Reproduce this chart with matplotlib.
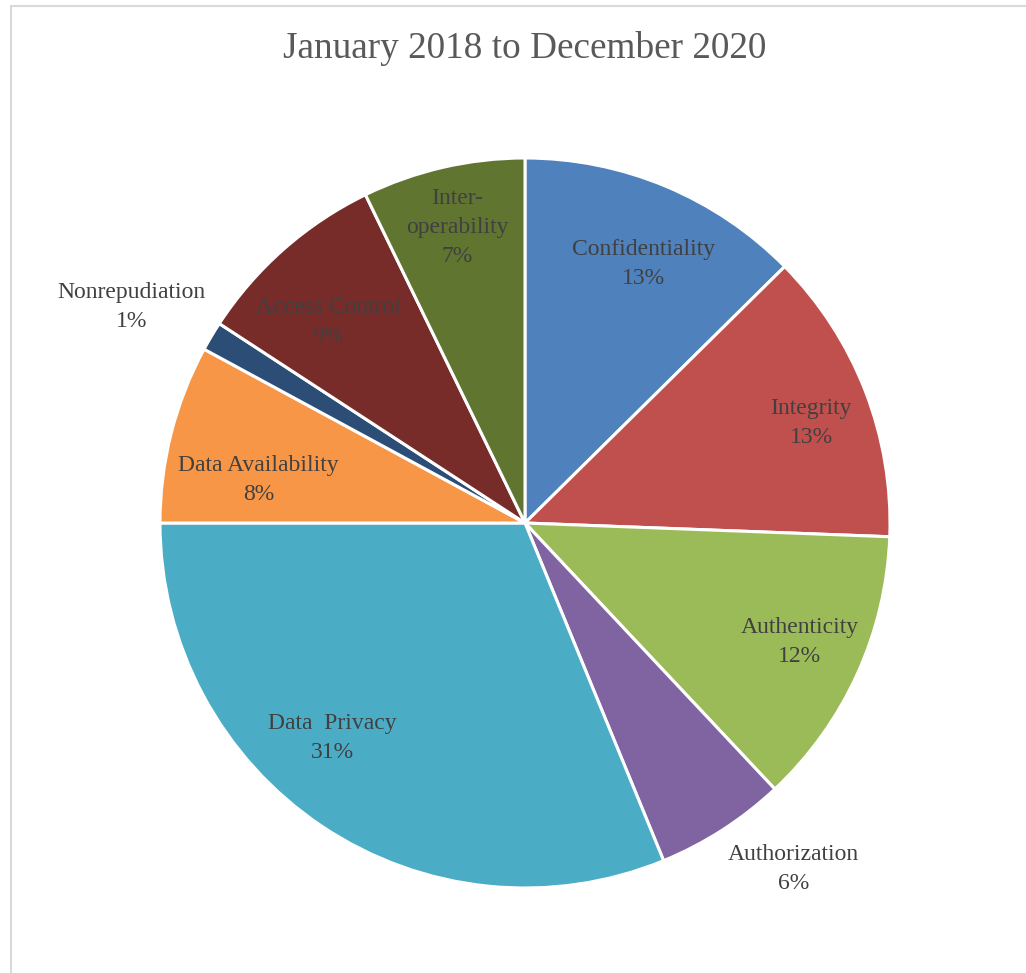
import numpy as np
import matplotlib.pyplot as plt
from matplotlib.patches import Rectangle

# share of publications per security requirement (%)
categories = ["Confidentiality", "Integrity", "Authenticity", "Authorization",
              "Data  Privacy", "Data Availability", "Nonrepudiation",
              "Access Control", "Inter-\noperability"]
shares = [12.6, 13.0, 12.4, 5.8, 31.2, 7.9, 1.3, 8.6, 7.2]
colors = ["#4F81BD", "#C0504D", "#9BBB59", "#8064A2", "#4BACC6",
          "#F79646", "#2C4D75", "#772C2A", "#5F7530"]

# label placement: distance from centre and angle nudge (degrees)
label_r = [0.78, 0.83, 0.82, 1.20, 0.79, 0.74, 1.23, 0.77, 0.83]
label_shift = [-2, -2, 1, 5, -8, 5, 2, 3, 0]

plt.rcParams["font.family"] = ["Liberation Serif", "DejaVu Serif"]

W, H = 1026, 973
fig = plt.figure(figsize=(W / 100, H / 100), dpi=100)

# light chart-area frame
fig.patches.append(Rectangle((10.5 / W, -0.1), 1.2, 1.1 - 6.5 / H,
                             transform=fig.transFigure, fill=False,
                             edgecolor="#D9D9D9", linewidth=1.5))

cx, cy, R = 525, 523, 365
ax = fig.add_axes([(cx - R) / W, (H - cy - R) / H, 2 * R / W, 2 * R / H])
wedges, _ = ax.pie(shares, colors=colors, startangle=90, counterclock=False,
                   radius=1, wedgeprops=dict(edgecolor="white", linewidth=2.2))
ax.set_xlim(-1, 1)
ax.set_ylim(-1, 1)
ax.set_aspect("equal")
ax.axis("off")

total = sum(shares)
for w, name, val, r, s in zip(wedges, categories, shares, label_r, label_shift):
    mid = np.deg2rad((w.theta1 + w.theta2) / 2 + s)
    ax.text(r * np.cos(mid), r * np.sin(mid),
            "%s\n%.0f%%" % (name, val / total * 100),
            ha="center", va="center", fontsize=17, color="#404040",
            linespacing=1.5, clip_on=False)

fig.text(cx / W, 1 - 49 / H, "January 2018 to December 2020",
         ha="center", va="center", fontsize=26.8, color="#595959")

fig.savefig("out.png", dpi=100)
